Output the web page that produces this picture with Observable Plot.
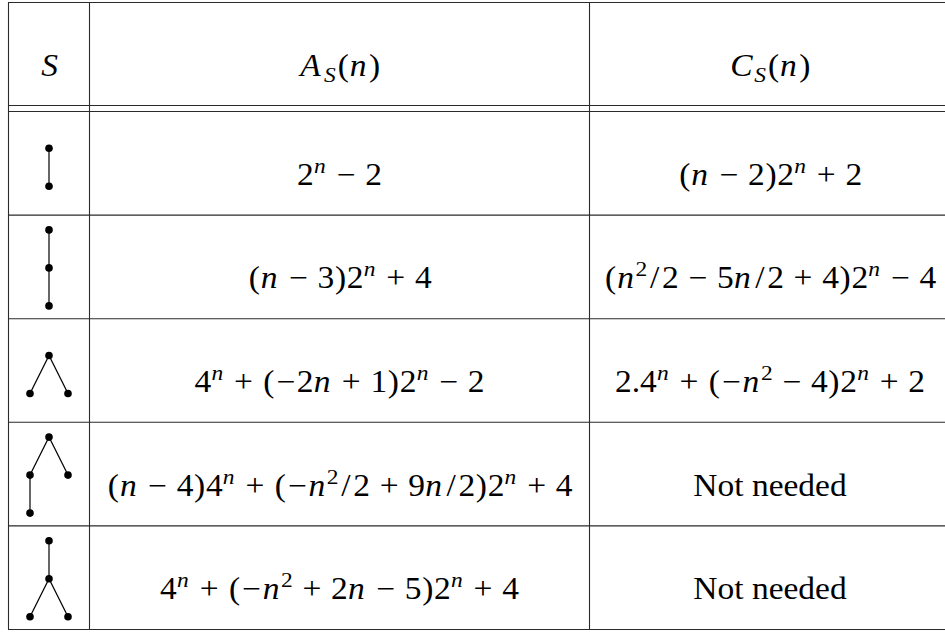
<!DOCTYPE html>
<html>
<head>
<meta charset="utf-8">
<script src="https://cdn.jsdelivr.net/npm/d3@7"></script>
<script src="https://cdn.jsdelivr.net/npm/@observablehq/plot@0.6"></script>
<style>
  html, body { margin: 0; padding: 0; background: #fff; }
</style>
</head>
<body>
<div id="chart"></div>
<script>
// ---------- content ----------
const headers = ["S", "A_{S}(n)", "C_{S}(n)"];

const aFormulas = [
  "2^{n} − 2",
  "(n − 3)2^{n} + 4",
  "4^{n} + (−2n + 1)2^{n} − 2",
  "(n − 4)4^{n} + (−n^{2}/2 + 9n/2)2^{n} + 4",
  "4^{n} + (−n^{2} + 2n − 5)2^{n} + 4"
];

const cFormulas = [
  "(n − 2)2^{n} + 2",
  "(n^{2}/2 − 5n/2 + 4)2^{n} − 4",
  "2.4^{n} + (−n^{2} − 4)2^{n} + 2",
  "Not needed",
  "Not needed"
];

const plainCells = ["Not needed"];

// Hasse diagrams of the posets S (row p, node key, horizontal offset, level from bottom)
const posetNodes = [
  {p: 0, k: "a", dx: 0, lv: 0}, {p: 0, k: "b", dx: 0, lv: 1},
  {p: 1, k: "a", dx: 0, lv: 0}, {p: 1, k: "b", dx: 0, lv: 1}, {p: 1, k: "c", dx: 0, lv: 2},
  {p: 2, k: "l", dx: -1, lv: 0}, {p: 2, k: "r", dx: 1, lv: 0}, {p: 2, k: "t", dx: 0, lv: 1},
  {p: 3, k: "bl", dx: -1, lv: 0}, {p: 3, k: "ml", dx: -1, lv: 1}, {p: 3, k: "r", dx: 1, lv: 1}, {p: 3, k: "t", dx: 0, lv: 2},
  {p: 4, k: "l", dx: -1, lv: 0}, {p: 4, k: "r", dx: 1, lv: 0}, {p: 4, k: "m", dx: 0, lv: 1}, {p: 4, k: "t", dx: 0, lv: 2}
];

const posetEdges = [
  {p: 0, a: "a", b: "b"},
  {p: 1, a: "a", b: "b"}, {p: 1, a: "b", b: "c"},
  {p: 2, a: "l", b: "t"}, {p: 2, a: "r", b: "t"},
  {p: 3, a: "bl", b: "ml"}, {p: 3, a: "ml", b: "t"}, {p: 3, a: "r", b: "t"},
  {p: 4, a: "l", b: "m"}, {p: 4, a: "r", b: "m"}, {p: 4, a: "m", b: "t"}
];

// ---------- layout ----------
const W = 945, H = 633;
const colEdges = [8, 89, 589, 950];
const tableTop = 2, headerBottom = 105, bodyTop = 111, rowH = 103.6;
const nRows = aFormulas.length;
const rowEdges = d3.range(nRows + 1).map(i => bodyTop + i * rowH);
const colCenter = c => (colEdges[c] + colEdges[c + 1]) / 2;
const rowCenter = r => (rowEdges[r] + rowEdges[r + 1]) / 2;
const headerCenter = (tableTop + headerBottom) / 2;
const FS = 31;
const XSCALE = 1.08;
const baselineOffset = 21.5;
const nodeDX = 19, nodeDY = 38;

// table cells
const cells = [];
headers.forEach((h, c) => cells.push({x: colCenter(c), y: headerCenter, t: h}));
aFormulas.forEach((f, r) => cells.push({x: colCenter(1), y: rowCenter(r), t: f}));
cFormulas.forEach((f, r) => cells.push({x: colCenter(2), y: rowCenter(r), t: f}));

// grid lines
const hLines = [tableTop, headerBottom, ...rowEdges];
const vLines = colEdges.slice(0, 3);

// poset positions
const maxLv = d3.rollup(posetNodes, v => d3.max(v, d => d.lv), d => d.p);
const nodePos = new Map();
posetNodes.forEach(n => {
  const m = maxLv.get(n.p);
  const off = m === 1 ? 4 : 1;
  nodePos.set(n.p + ":" + n.k, {
    x: colCenter(0) + n.dx * nodeDX,
    y: rowCenter(n.p) + off + (m / 2 - n.lv) * nodeDY
  });
});
const dots = posetNodes.map(n => nodePos.get(n.p + ":" + n.k));
const links = posetEdges.map(e => {
  const A = nodePos.get(e.p + ":" + e.a), B = nodePos.get(e.p + ":" + e.b);
  return {x1: A.x, y1: A.y, x2: B.x, y2: B.y};
});

const lineColor = "#2a2a2a";

const svg = Plot.plot({
  width: W,
  height: H,
  marginTop: 0, marginRight: 0, marginBottom: 0, marginLeft: 0,
  x: {domain: [0, W], range: [0, W], axis: null},
  y: {domain: [0, H], range: [0, H], axis: null},
  style: {background: "#fff"},
  marks: [
    Plot.ruleY(hLines, {y: d => d, x1: colEdges[0], x2: W, stroke: lineColor, strokeWidth: 1.1}),
    Plot.ruleX(vLines, {x: d => d, y1: tableTop, y2: rowEdges[nRows], stroke: lineColor, strokeWidth: 1.1}),
    Plot.link(links, {x1: "x1", y1: "y1", x2: "x2", y2: "y2", stroke: "#000", strokeWidth: 1.2}),
    Plot.dot(dots, {x: "x", y: "y", r: 3.8, fill: "#000", stroke: "none"}),
    Plot.text(cells, {
      x: "x", y: "y", text: "t",
      fontSize: FS, fontFamily: "'Liberation Serif', 'DejaVu Serif', serif",
      textAnchor: "middle", lineAnchor: "bottom", dy: baselineOffset, fill: "#000"
    })
  ]
});

// ---------- math typesetting (super/subscripts, italics, TeX-like spacing) ----------
function parseMarkup(s) {
  const segs = [];
  let buf = "";
  for (let i = 0; i < s.length; i++) {
    const ch = s[i];
    if ((ch === "^" || ch === "_") && s[i + 1] === "{") {
      if (buf) { segs.push({t: buf, shift: 0}); buf = ""; }
      const end = s.indexOf("}", i + 2);
      segs.push({t: s.slice(i + 2, end), shift: ch === "^" ? 1 : -1});
      i = end;
    } else buf += ch;
  }
  if (buf) segs.push({t: buf, shift: 0});
  return segs;
}

// extra side bearings (em) to approach Computer Modern advance widths
const pads = {
  "n": [0.01, 0.05], "S": [0.02, 0.06], "A": [0.02, 0.08], "C": [0.01, 0.03],
  "/": [0.08, 0.08], "(": [0.02, 0.02], ")": [0.02, 0.02],
  "+": [0.04, 0.04], "−": [0.04, 0.04]
};

const NS = "http://www.w3.org/2000/svg";
d3.select(svg).selectAll("text").each(function () {
  const s = this.textContent;
  const math = !plainCells.includes(s);
  if (math) {
    const segs = parseMarkup(s);
    while (this.firstChild) this.removeChild(this.firstChild);
    let cur = 0, pendingAfter = 0;
    for (const seg of segs) {
      const target = seg.shift === 1 ? -12 : seg.shift === -1 ? 6 : 0;
      const size = seg.shift !== 0 ? FS * 0.7 : FS;
      for (const ch of seg.t) {
        const ts = document.createElementNS(NS, "tspan");
        const dy = target - cur;
        if (dy !== 0) ts.setAttribute("dy", dy);
        cur = target;
        const pad = pads[ch] || [0, 0];
        const dx = pendingAfter + pad[0] * size;
        if (Math.abs(dx) > 0.01) ts.setAttribute("dx", dx.toFixed(2));
        pendingAfter = pad[1] * size;
        if (/[A-Za-z]/.test(ch)) ts.setAttribute("font-style", "italic");
        if (seg.shift !== 0) ts.setAttribute("font-size", size.toFixed(1));
        ts.textContent = ch;
        this.appendChild(ts);
      }
    }
  }
  // widen glyphs horizontally toward Computer Modern proportions
  const tr = this.getAttribute("transform");
  if (tr) {
    this.setAttribute("transform", tr + ` scale(${XSCALE},1)`);
  } else {
    const x = +this.getAttribute("x") || 0;
    this.setAttribute("transform", `translate(${x * (1 - XSCALE)},0) scale(${XSCALE},1)`);
  }
});

document.getElementById("chart").appendChild(svg);
</script>
</body>
</html>
